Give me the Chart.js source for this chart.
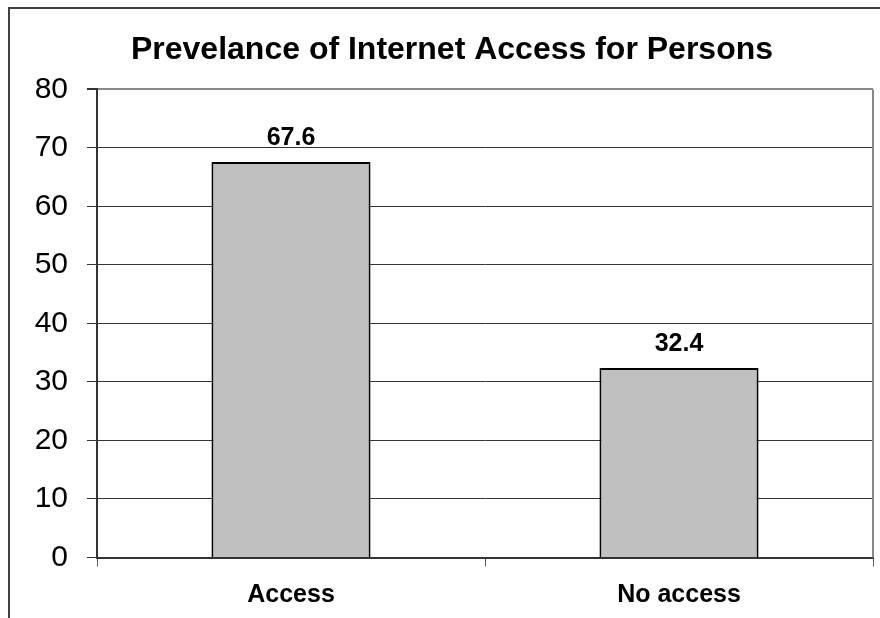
<!DOCTYPE html>
<html>
<head>
<meta charset="utf-8">
<script src="https://cdn.jsdelivr.net/npm/chart.js@4/dist/chart.umd.min.js"></script>
<style>
  html, body { margin: 0; padding: 0; background: #fff; overflow: hidden; }
  #wrap { position: relative; width: 880px; height: 618px; }
</style>
</head>
<body>
<div id="wrap"><canvas id="chart" width="880" height="618"></canvas></div>
<script>
const categories = ['Access', 'No access'];
const prevalence = [67.6, 32.4];
const yTicks = [0, 10, 20, 30, 40, 50, 60, 70, 80];

const FONT = "'Liberation Sans', Arial, sans-serif";

// outer frame of the chart object (right and bottom sides fall outside the page)
const frame = {
  id: 'frame',
  beforeDraw(chart) {
    const ctx = chart.ctx;
    ctx.save();
    ctx.strokeStyle = '#404040';
    ctx.lineWidth = 2;
    ctx.beginPath();
    ctx.moveTo(9, 640);
    ctx.lineTo(9, 8);
    ctx.lineTo(900, 8);
    ctx.stroke();
    ctx.restore();
  }
};

// grey right edge of the plot area
const plotEdge = {
  id: 'plotEdge',
  beforeDatasetsDraw(chart) {
    const { ctx, chartArea } = chart;
    ctx.save();
    ctx.strokeStyle = '#888';
    ctx.lineWidth = 2;
    ctx.beginPath();
    ctx.moveTo(chartArea.right, chartArea.top);
    ctx.lineTo(chartArea.right, chartArea.bottom);
    ctx.stroke();
    ctx.restore();
  }
};

// value above each bar
const valueLabels = {
  id: 'valueLabels',
  afterDatasetsDraw(chart) {
    const ctx = chart.ctx;
    const meta = chart.getDatasetMeta(0);
    ctx.save();
    ctx.fillStyle = '#000';
    ctx.font = 'bold 25px ' + FONT;
    ctx.textAlign = 'center';
    ctx.textBaseline = 'alphabetic';
    meta.data.forEach((bar, i) => {
      ctx.fillText(prevalence[i].toFixed(1), bar.x, bar.y - 17);
    });
    ctx.restore();
  }
};

new Chart(document.getElementById('chart'), {
  type: 'bar',
  data: {
    labels: categories,
    datasets: [{
      data: prevalence,
      backgroundColor: '#C0C0C0',
      borderColor: '#000',
      borderWidth: 2,
      barPercentage: 0.41,
      categoryPercentage: 1
    }]
  },
  options: {
    responsive: false,
    animation: false,
    layout: { padding: { left: 31, right: 7, top: 0, bottom: 0 } },
    plugins: {
      legend: { display: false },
      tooltip: { enabled: false },
      title: {
        display: true,
        text: 'Prevelance of Internet Access for Persons',
        color: '#000',
        font: { family: FONT, size: 32, weight: 'bold', lineHeight: 1.2 },
        padding: { top: 31, bottom: 20 }
      }
    },
    scales: {
      x: {
        afterFit(scale) { scale.height = 60.5; },
        border: { color: '#333', width: 2 },
        grid: { drawOnChartArea: false, drawTicks: true, tickLength: 9, tickColor: '#555', offset: true },
        ticks: { color: '#000', padding: 14, font: { family: FONT, size: 25, weight: 'bold' } }
      },
      y: {
        min: 0,
        max: 80,
        afterFit(scale) { scale.width = 66; },
        afterBuildTicks(scale) { scale.ticks = yTicks.map(v => ({ value: v })); },
        border: { color: '#333', width: 2 },
        grid: {
          color: ctx => (ctx.tick && ctx.tick.value === 80 ? '#888' : '#333'),
          lineWidth: ctx => (ctx.tick && ctx.tick.value === 80 ? 2 : 1),
          tickColor: '#333',
          tickLength: 10
        },
        ticks: { color: '#000', padding: 19, font: { family: FONT, size: 30 } }
      }
    }
  },
  plugins: [frame, plotEdge, valueLabels]
});
</script>
</body>
</html>
